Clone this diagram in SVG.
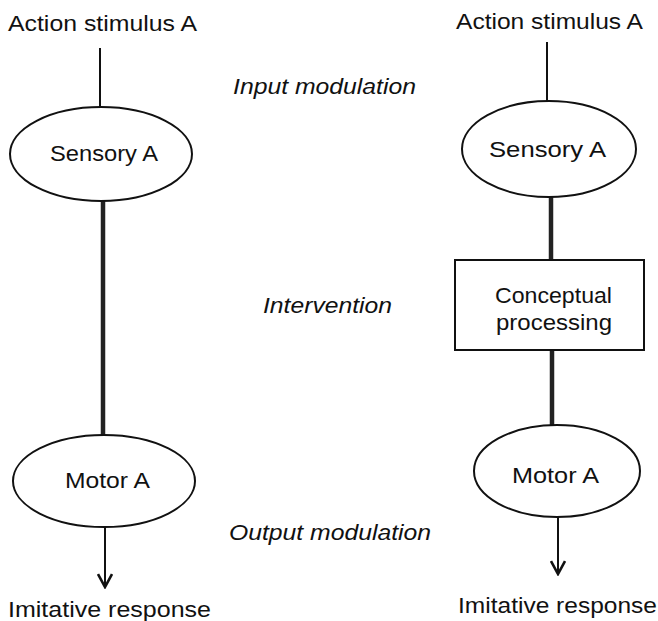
<svg xmlns="http://www.w3.org/2000/svg" width="658" height="621" viewBox="0 0 658 621">
<defs>
<style>
text{font-family:"Liberation Sans",Arial,sans-serif;font-size:22px;fill:#111;}
.it{font-style:italic;}
.node{fill:#fff;stroke:#111;stroke-width:2;}
.thin{stroke:#111;stroke-width:2;fill:none;}
.thick{stroke:#222;stroke-width:4.5;fill:none;}
</style>
<marker id="arr" viewBox="0 0 16 16" refX="14" refY="8" markerWidth="16" markerHeight="16" markerUnits="userSpaceOnUse" orient="auto">
<path d="M1,1 L14,8 L1,15" fill="none" stroke="#111" stroke-width="2.6" stroke-linejoin="miter"/>
</marker>
</defs>
<rect width="658" height="621" fill="#fff"/>
<g id="connectors">
<line class="thin" x1="100" y1="48" x2="100" y2="107"/>
<line class="thick" x1="103" y1="201" x2="103" y2="436"/>
<line class="thin" x1="105" y1="527" x2="105" y2="587" marker-end="url(#arr)"/>
<line class="thin" x1="547" y1="42" x2="547" y2="101"/>
<line class="thick" x1="551" y1="197" x2="551" y2="260"/>
<line class="thick" x1="552" y1="350" x2="552" y2="425"/>
<line class="thin" x1="558" y1="517" x2="558" y2="574" marker-end="url(#arr)"/>
</g>
<g id="left-stimulus"><text x="8" y="31" textLength="189" lengthAdjust="spacingAndGlyphs">Action stimulus A</text></g>
<g id="left-sensory"><ellipse class="node" cx="101" cy="154" rx="91" ry="47"/><text x="50" y="161" textLength="108" lengthAdjust="spacingAndGlyphs">Sensory A</text></g>
<g id="left-motor"><ellipse class="node" cx="104" cy="481" rx="91" ry="46"/><text x="65" y="488" textLength="85" lengthAdjust="spacingAndGlyphs">Motor A</text></g>
<g id="left-response"><text x="8" y="617" textLength="203" lengthAdjust="spacingAndGlyphs">Imitative response</text></g>
<g id="right-stimulus"><text x="456" y="29" textLength="187" lengthAdjust="spacingAndGlyphs">Action stimulus A</text></g>
<g id="right-sensory"><ellipse class="node" cx="549" cy="149" rx="87" ry="48"/><text x="489" y="157" textLength="117" lengthAdjust="spacingAndGlyphs">Sensory A</text></g>
<g id="right-conceptual"><rect class="node" x="455" y="260" width="189" height="90"/><text x="495" y="303" textLength="117" lengthAdjust="spacingAndGlyphs">Conceptual</text><text x="496" y="330" textLength="116" lengthAdjust="spacingAndGlyphs">processing</text></g>
<g id="right-motor"><ellipse class="node" cx="557" cy="471" rx="83" ry="46"/><text x="512" y="483" textLength="87" lengthAdjust="spacingAndGlyphs">Motor A</text></g>
<g id="right-response"><text x="458" y="613" textLength="199" lengthAdjust="spacingAndGlyphs">Imitative response</text></g>
<g id="label-input"><text class="it" x="233" y="94" textLength="183" lengthAdjust="spacingAndGlyphs">Input modulation</text></g>
<g id="label-intervention"><text class="it" x="263" y="313" textLength="129" lengthAdjust="spacingAndGlyphs">Intervention</text></g>
<g id="label-output"><text class="it" x="229" y="540" textLength="202" lengthAdjust="spacingAndGlyphs">Output modulation</text></g>
</svg>
